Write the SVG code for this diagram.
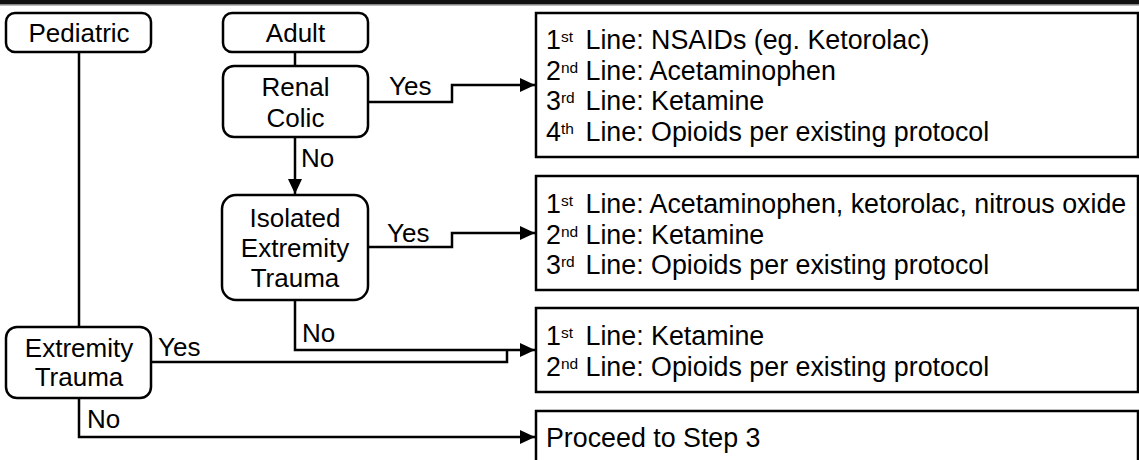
<svg xmlns="http://www.w3.org/2000/svg" width="1139" height="460" viewBox="0 0 1139 460">
<style>
.box{fill:#fff;stroke:#000;stroke-width:2.5}
.ln{fill:none;stroke:#000;stroke-width:2.5}
text{font-family:"Liberation Sans",Arial,sans-serif;font-size:26px;fill:#000}
.c{text-anchor:middle}
.r{font-size:26.8px}
.sup{font-size:15.5px}
</style>
<defs>
<marker id="arr" markerUnits="userSpaceOnUse" viewBox="0 0 15 14" refX="15" refY="7" markerWidth="15" markerHeight="14" orient="auto">
<path d="M0,0 L15,7 L0,14 z" fill="#000"/>
</marker>
</defs>
<rect x="0" y="0" width="1139" height="4.5" fill="#111"/>
<line x1="0" y1="5.5" x2="1139" y2="5.5" stroke="#bbb" stroke-width="1"/>

<g id="connectors">
<line class="ln" x1="79" y1="52" x2="79" y2="327"/>
<line class="ln" x1="295" y1="52" x2="295" y2="66"/>
<line class="ln" x1="295" y1="137" x2="295" y2="194" marker-end="url(#arr)"/>
<polyline class="ln" points="368,102 452,102 452,85 535,85" marker-end="url(#arr)"/>
<polyline class="ln" points="368,247 452,247 452,233 535,233" marker-end="url(#arr)"/>
<polyline class="ln" points="295,300 295,350 535,350" marker-end="url(#arr)"/>
<polyline class="ln" points="151,362 507,362 507,350"/>
<polyline class="ln" points="79,398 79,437 535,437" marker-end="url(#arr)"/>
<text x="389" y="95">Yes</text>
<text x="301" y="166.7">No</text>
<text x="387" y="241.7">Yes</text>
<text x="302" y="341.7">No</text>
<text x="158" y="356">Yes</text>
<text x="87" y="428.3">No</text>
</g>

<g id="pediatric">
<rect class="box" x="6" y="13" width="145" height="39" rx="9"/>
<text class="c" x="79" y="41.7">Pediatric</text>
</g>
<g id="adult">
<rect class="box" x="223" y="13" width="145" height="39" rx="9"/>
<text class="c" x="295.5" y="41.7">Adult</text>
</g>
<g id="renal-colic">
<rect class="box" x="223" y="66" width="145" height="71" rx="11"/>
<text class="c" x="295.5" y="95.7">Renal</text>
<text class="c" x="295.5" y="126.7">Colic</text>
</g>
<g id="isolated-extremity-trauma">
<rect class="box" x="222" y="195" width="146" height="105" rx="14"/>
<text class="c" x="295" y="226.7">Isolated</text>
<text class="c" x="295" y="257.3">Extremity</text>
<text class="c" x="295" y="287.3">Trauma</text>
</g>
<g id="extremity-trauma">
<rect class="box" x="6" y="327" width="145" height="71" rx="11"/>
<text class="c" x="79" y="356.7">Extremity</text>
<text class="c" x="79" y="386">Trauma</text>
</g>

<g id="result-renal">
<rect class="box" x="536" y="13" width="602" height="144"/>
<text class="r" x="546" y="49">1<tspan class="sup" dy="-7">st</tspan><tspan x="585.5" dy="7">Line: NSAIDs (eg. Ketorolac)</tspan></text>
<text class="r" x="546" y="79.5">2<tspan class="sup" dy="-7">nd</tspan><tspan x="585.5" dy="7">Line: Acetaminophen</tspan></text>
<text class="r" x="546" y="110">3<tspan class="sup" dy="-7">rd</tspan><tspan x="585.5" dy="7">Line: Ketamine</tspan></text>
<text class="r" x="546" y="140.5">4<tspan class="sup" dy="-7">th</tspan><tspan x="585.5" dy="7">Line: Opioids per existing protocol</tspan></text>
</g>
<g id="result-isolated">
<rect class="box" x="536" y="176" width="602" height="114"/>
<text class="r" x="546" y="213">1<tspan class="sup" dy="-7">st</tspan><tspan x="585.5" dy="7">Line: Acetaminophen, ketorolac, nitrous oxide</tspan></text>
<text class="r" x="546" y="243.5">2<tspan class="sup" dy="-7">nd</tspan><tspan x="585.5" dy="7">Line: Ketamine</tspan></text>
<text class="r" x="546" y="274">3<tspan class="sup" dy="-7">rd</tspan><tspan x="585.5" dy="7">Line: Opioids per existing protocol</tspan></text>
</g>
<g id="result-extremity">
<rect class="box" x="536" y="308" width="602" height="84"/>
<text class="r" x="546" y="345">1<tspan class="sup" dy="-7">st</tspan><tspan x="585.5" dy="7">Line: Ketamine</tspan></text>
<text class="r" x="546" y="375.5">2<tspan class="sup" dy="-7">nd</tspan><tspan x="585.5" dy="7">Line: Opioids per existing protocol</tspan></text>
</g>
<g id="result-proceed">
<rect class="box" x="536" y="411" width="602" height="70"/>
<text class="r" x="546" y="446.5">Proceed to Step 3</text>
</g>
</svg>
